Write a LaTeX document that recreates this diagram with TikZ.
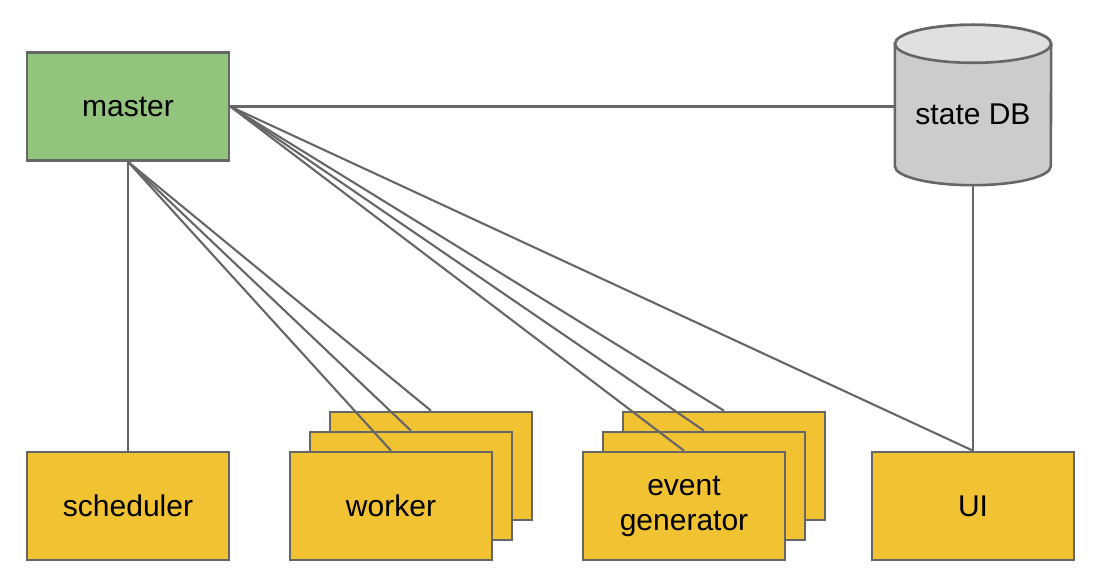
\documentclass[tikz,border=0pt]{standalone}
\usepackage{fontspec}
\setmainfont{Liberation Sans}
\usepackage{tikz}
\usepackage{xcolor}
\usetikzlibrary{positioning,calc}
\definecolor{cA}{HTML}{666666}
\definecolor{cB}{HTML}{93c47d}
\definecolor{cC}{HTML}{f1c232}
\definecolor{cD}{HTML}{cccccc}
\definecolor{cE}{HTML}{e0e0e0}
\tikzset{
  box/.style={draw=cA,line width=2.6pt,fill=cC,minimum width=202pt,minimum height=108pt,inner sep=2pt,align=center,font=\fontsize{30}{35}\selectfont},
  mbox/.style={box,fill=cB},
  dbtext/.style={minimum width=156pt,minimum height=141pt,inner sep=0pt,font=\fontsize{30}{35}\selectfont},
  link/.style={draw=cA,line width=2.1pt},
}

\begin{document}
\begin{tikzpicture}[x=1pt,y=1pt]
\useasboundingbox (0,0) rectangle (1093,587);
\node[mbox] (master) at (128,480.5) {master};
\node[box] (sched) at (128,81) {scheduler};
% worker stack
\node[box] (wk3) at (431,121) {};
\node[box] (wk2) at (411,101) {};
\node[box] (wk1) at (391,81) {worker};
% event generator stack
\node[box] (ev3) at (724,121) {};
\node[box] (ev2) at (704,101) {};
\node[box] (ev1) at (684,81) {event\\generator};
\node[box] (ui) at (973,81) {UI};
% state DB cylinder
\node[dbtext] (db) at (973,472.5) {};
\draw[cA,line width=2.6pt,fill=cD] (db.north west) -- ($(db.south west)+(0,19)$)
  arc[start angle=180,end angle=360,x radius=78,y radius=19]
  -- (db.north east) arc[start angle=0,end angle=180,x radius=78,y radius=19] -- cycle;
\draw[cA,line width=2.6pt,fill=cE] (db.north) ellipse[x radius=78,y radius=19];
\node[dbtext] at (db) {state DB};
% links
\draw[link] (master.east) -- (master.east -| db.west);
\draw[link] (db.south) -- (ui.north);
\draw[link] (master.south) -- (sched.north);
\foreach \n in {wk1,wk2,wk3} \draw[link] (master.south) -- (\n.north);
\foreach \n in {ev1,ev2,ev3,ui} \draw[link] (master.east) -- (\n.north);
\end{tikzpicture}
\end{document}
